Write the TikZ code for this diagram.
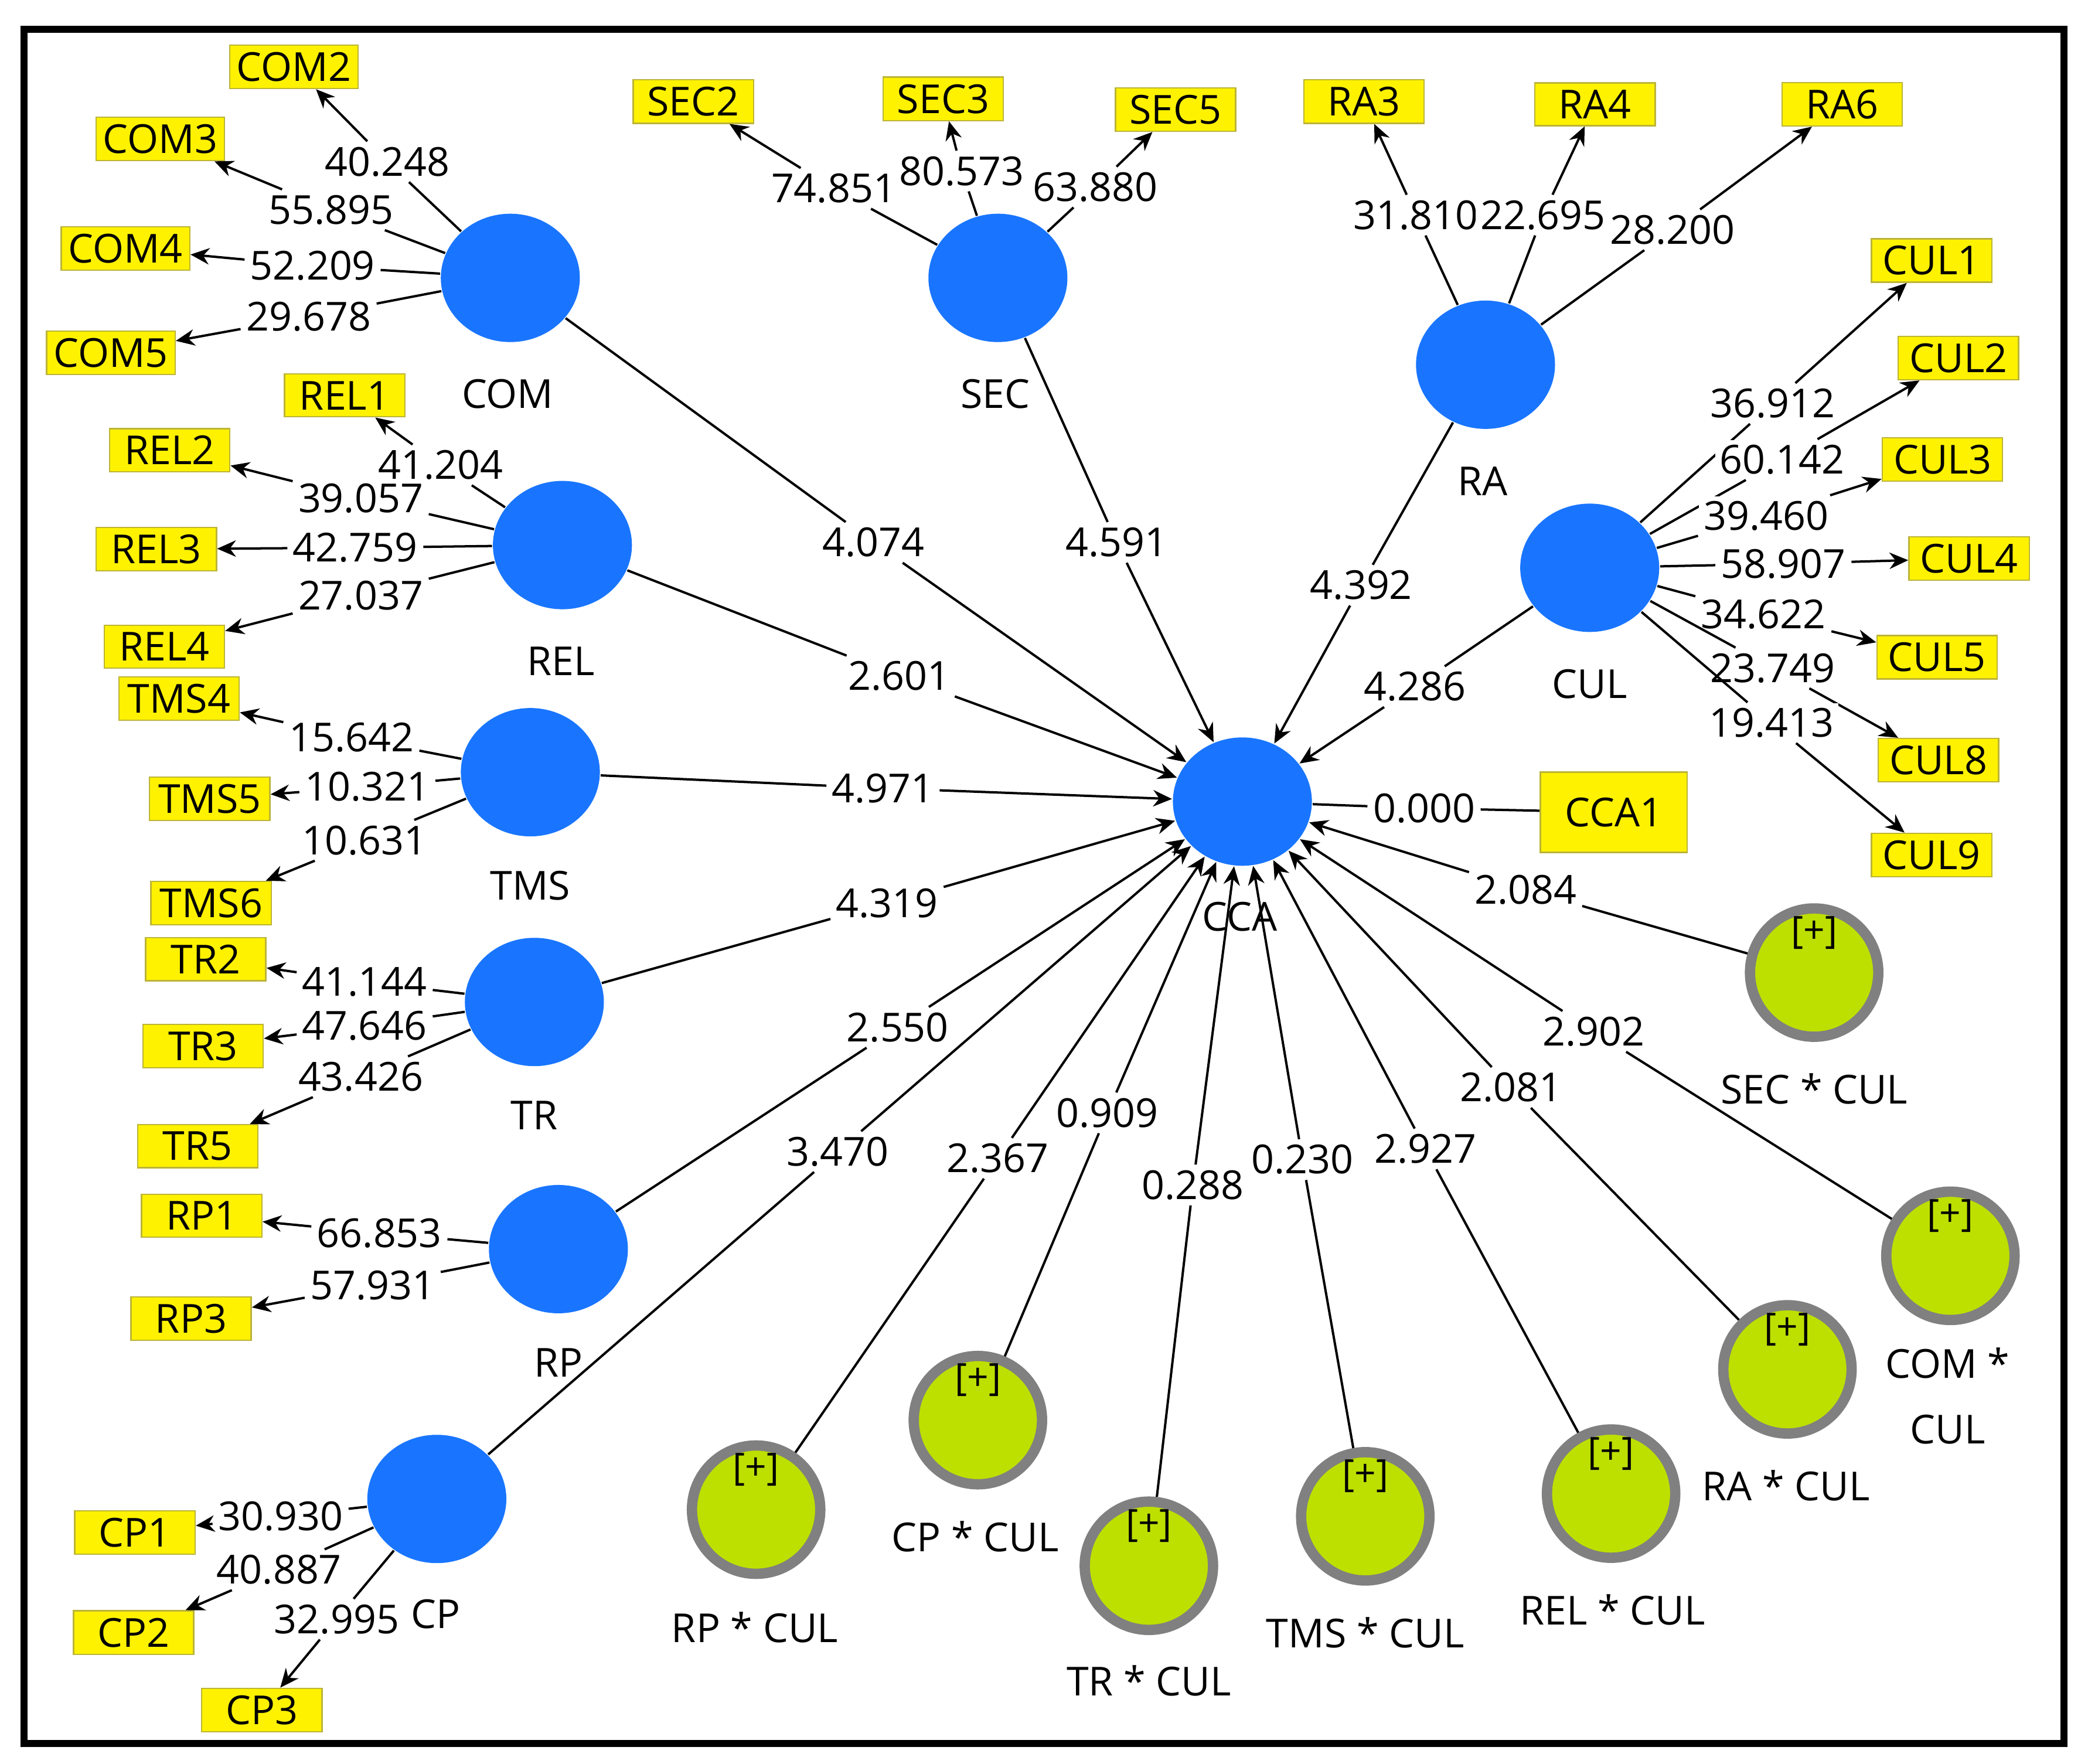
\documentclass[tikz,border=0pt]{standalone}
\usepackage{fontspec}
\setmainfont{Open Sans}
\usetikzlibrary{arrows.meta,shapes.geometric}
\begin{document}
\begin{tikzpicture}[x=0.01cm,y=-0.01cm,
 font=\fontsize{8.5}{10}\selectfont,
 lat/.style={ellipse,fill=blue!60!cyan!90!white,draw=none,minimum width=1.04cm,minimum height=0.96cm,inner sep=0pt},
 mod/.style={circle,fill=lime!70!olive!80!yellow,draw=gray,line width=2.2pt,minimum size=0.96cm,inner sep=0pt},
 ind/.style={rectangle,fill=yellow,draw=yellow!70!black,line width=0.3pt,inner sep=1.5pt,minimum height=0.32cm,minimum width=0.9cm},
 lab/.style={fill=white,inner sep=1pt},
 pth/.style={draw,line width=0.5pt},
 arr/.style={pth,-{Stealth[length=4pt,width=3.5pt]}}]
\useasboundingbox (0,0) rectangle (1563,1320);
\draw[line width=1.5pt] (18,22) rectangle (1545,1305);
% latents
\foreach \n/\x/\y in {COM/382/208,SEC/747/208,RA/1112/273,REL/421/408,TMS/397/578,TR/400/750,RP/418/935,CP/327/1122,CUL/1190/425,CCA/930/600}
  \node[lat] (\n) at (\x,\y) {};
\foreach \n/\x/\y in {SECm/1358/728,COMm/1460/940,RAm/1338/1025,RELm/1206/1118,TMSm/1022/1135,TRm/860/1172,CPm/732/1063,RPm/566/1130}
  {\node[mod] (\n) at (\x,\y) {}; \node[font=\fontsize{8}{9}\selectfont] at (\x,\y-30) {[+]};}
% latent names
\foreach \t/\x/\y in {COM/380/295,SEC/745/295,RA/1110/360,REL/420/495,TMS/397/663,TR/400/835,RP/418/1020,CP/326/1208,CUL/1190/512,CCA/928/686,SEC * CUL/1358/815,RA * CUL/1337/1112,REL * CUL/1207/1205,TMS * CUL/1022/1222,TR * CUL/860/1258,CP * CUL/730/1150,RP * CUL/565/1218}
  \node at (\x,\y) {\t};
\node[align=center] at (1458,1045) {COM *\\[4pt]CUL};
% indicators
\foreach \n/\x/\y in {COM2/220/50,COM3/120/104,COM4/94/186,COM5/83/264,SEC2/519/76,SEC3/706/74,SEC5/880/82,RA3/1021/76,RA4/1194/78,RA6/1379/78,CUL1/1446/195,CUL2/1466/268,CUL3/1454/344,CUL4/1474/418,CUL5/1450/492,CUL8/1451/569,CUL9/1446/640,REL1/258/296,REL2/127/337,REL3/117/411,REL4/123/484,TMS4/134/523,TMS5/157/598,TMS6/158/676,TR2/154/718,TR3/152/783,TR5/148/858,RP1/151/910,RP3/143/987,CP1/101/1147,CP2/100/1222,CP3/196/1280}
  \node[ind] (\n) at (\x,\y) {\n};
\node[ind,minimum width=1.1cm,minimum height=0.6cm] (CCA1) at (1208,608) {CCA1};
% outer loadings
\foreach \l/\v/\x/\y/\i in {COM/40.248/290/121/COM2,COM/55.895/248/157/COM3,COM/52.209/234/199/COM4,COM/29.678/231/237/COM5,
 SEC/74.851/624/141/SEC2,SEC/80.573/720/128/SEC3,SEC/63.880/820/140/SEC5,
 RA/31.810/1060/161/RA3,RA/22.695/1155/161/RA4,RA/28.200/1252/172/RA6,
 CUL/36.912/1327/302/CUL1,CUL/60.142/1334/344/CUL2,CUL/39.460/1322/386/CUL3,CUL/58.907/1335/422/CUL4,CUL/34.622/1320/460/CUL5,CUL/23.749/1327/500/CUL8,CUL/19.413/1326/541/CUL9,
 REL/41.204/330/348/REL1,REL/39.057/270/373/REL2,REL/42.759/266/410/REL3,REL/27.037/270/446/REL4,
 TMS/15.642/263/552/TMS4,TMS/10.321/275/589/TMS5,TMS/10.631/273/629/TMS6,
 TR/41.144/273/735/TR2,TR/47.646/273/768/TR3,TR/43.426/270/806/TR5,
 RP/66.853/284/923/RP1,RP/57.931/279/962/RP3,
 CP/30.930/210/1135/CP1,CP/40.887/209/1175/CP2,CP/32.995/252/1212/CP3}
 { \node[lab] (L\i) at (\x,\y) {\v};
   \draw[arr] (\l) -- (L\i) -- (\i); }
\node[lab] (Lcca) at (1066,605) {0.000};
\draw[pth] (CCA) -- (Lcca) -- (CCA1);
% inner paths
\foreach \s/\v/\x/\y in {COM/4.074/654/406,SEC/4.591/836/406,RA/4.392/1019/438,CUL/4.286/1059/514,REL/2.601/673/506,TMS/4.971/661/590,TR/4.319/664/676,RP/2.550/672/769,CP/3.470/627/862,RPm/2.367/747/867,CPm/0.909/829/833,TRm/0.288/893/887,TMSm/0.230/975/868,RELm/2.927/1067/860,RAm/2.081/1131/814,COMm/2.902/1193/772,SECm/2.084/1142/666}
 { \node[lab] (P\s) at (\x,\y) {\v};
   \draw[arr] (\s) -- (P\s) -- (CCA); }
\end{tikzpicture}
\end{document}
